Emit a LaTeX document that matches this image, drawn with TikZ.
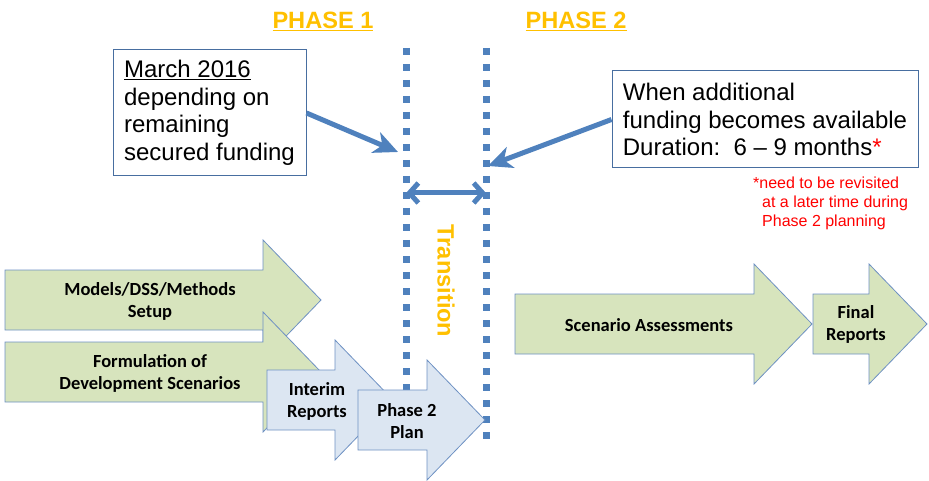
\documentclass[tikz,border=0pt]{standalone}
\usepackage{fontspec}
\setmainfont{Liberation Sans}
\newfontfamily\calibri{Carlito}
\usetikzlibrary{arrows.meta}
\definecolor{PhaseOrange}{RGB}{255,192,0}
\definecolor{DotBlue}{RGB}{79,129,189}
\definecolor{BoxBlue}{RGB}{72,110,160}
\definecolor{LightGreen}{RGB}{215,228,189}
\definecolor{LightBlue}{RGB}{220,230,242}
\definecolor{EdgeBlue}{RGB}{110,145,195}
\newcommand{\BlockArrow}[4]{%
  \draw[#1] (#2,#3) -- (#4,#3) -- (#4,#3-30) -- (#4+58,#3+30)
    -- (#4,#3+90) -- (#4,#3+60) -- (#2,#3+60) -- cycle;}

\begin{document}
\begin{tikzpicture}[x=1pt,y=-1pt]
          \tikzstyle{DotLine}=[DotBlue, line width=7pt, dash pattern=on 7pt off 9pt]
          \tikzstyle{GreenArrow}=[fill=LightGreen, draw=EdgeBlue, line width=0.8pt]
          \tikzstyle{BlueArrow}=[fill=LightBlue, draw=EdgeBlue, line width=0.8pt]
          \tikzstyle{ArrowLabel}=[font=\calibri\bfseries\fontsize{18.5}{22}\selectfont, align=center, inner sep=0pt]
          \tikzstyle{NoteBox}=[draw=BoxBlue, fill=white, line width=1pt, align=left, inner xsep=10pt, inner ysep=0pt, font=\fontsize{24}{27.5}\selectfont]
          \tikzstyle{PhaseLabel}=[PhaseOrange, font=\bfseries\fontsize{23.6}{28}\selectfont, inner sep=0pt]
          \tikzstyle{Pointer}=[DotBlue, line width=5pt, -{Stealth[length=24pt,width=22pt,inset=7pt]}]
          \tikzstyle{Span}=[DotBlue, line width=5pt, {Straight Barb[length=9pt,width=20pt]}-{Straight Barb[length=9pt,width=20pt]}]
          \useasboundingbox (0,0) rectangle (929,481);
          % phase headings
          \node[PhaseLabel, anchor=base] (phaseone) at (323,29) {\underline{PHASE 1}};
          \node[PhaseLabel, anchor=base] (phasetwo) at (576,29) {\underline{PHASE 2}};
          % dotted lines
          \coordinate (lineonetop) at (406,48);
          \coordinate (lineonebot) at (406,440);
          \coordinate (linetwotop) at (486,48);
          \coordinate (linetwobot) at (486,440);
          \draw[DotLine] (lineonetop) -- (lineonebot);
          \draw[DotLine] (linetwotop) -- (linetwobot);
          % boxes
          \node[NoteBox, minimum width=193pt, minimum height=126pt] (datebox) at (209.5,113)
            {\underline{March 2016}\\depending on\\remaining\\secured funding};
          \node[NoteBox, minimum width=306pt, minimum height=97pt] (fundbox) at (765,119.5)
            {When additional\\funding becomes available\\Duration:\ \ 6 -- 9 months\textcolor{red}{*}};
          \node[red, anchor=north west, align=left, inner sep=0pt, font=\fontsize{16}{19}\selectfont] (note) at (753,177)
            {*need to be revisited\\\hspace*{9pt}at a later time during\\\hspace*{9pt}Phase 2 planning};
          % pointers
          \coordinate (hitone) at (398,152);
          \coordinate (hittwo) at (488,166);
          \coordinate (spanone) at (406,193);
          \coordinate (spantwo) at (486,193);
          \draw[Pointer] (datebox.east) -- (hitone);
          \draw[Pointer] (fundbox.west) -- (hittwo);
          \draw[Span] (spanone) -- (spantwo);
          \node[PhaseLabel, rotate=-90] (transition) at (446,281) {Transition};
          % block arrows
          \BlockArrow{GreenArrow}{5}{270}{263}
          \BlockArrow{GreenArrow}{5}{342}{263}
          \BlockArrow{BlueArrow}{267}{370}{335}
          \BlockArrow{BlueArrow}{358}{390}{427}
          \BlockArrow{GreenArrow}{515}{294}{754}
          \BlockArrow{GreenArrow}{813}{294}{869}
          % labels
          \node[ArrowLabel] (models) at (150,301) {Models/DSS/Methods\\Setup};
          \node[ArrowLabel] (formulation) at (150,373.5) {Formulation of\\Development Scenarios};
          \node[ArrowLabel] (interim) at (317,401.5) {Interim\\Reports};
          \node[ArrowLabel] (planning) at (407,421.5) {Phase 2\\Plan};
          \node[ArrowLabel] (scenario) at (649,325) {Scenario Assessments};
          \node[ArrowLabel] (final) at (856,324.5) {Final\\Reports};
\end{tikzpicture}
\end{document}
